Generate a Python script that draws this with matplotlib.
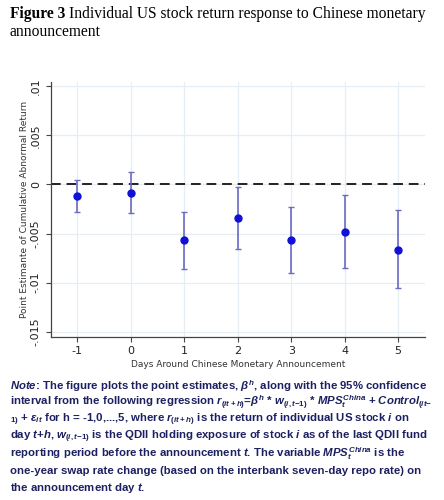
import numpy as np
import matplotlib.pyplot as plt

# point estimates and 95% CI
days = [-1, 0, 1, 2, 3, 4, 5]
beta = [-0.00122, -0.00085, -0.00568, -0.00343, -0.00564, -0.0048, -0.00663]
ci_hi = [0.00045, 0.00123, -0.00279, -0.00027, -0.00228, -0.00108, -0.00265]
ci_lo = [-0.00282, -0.00292, -0.00857, -0.00656, -0.00898, -0.0085, -0.01054]
yticks = [0.01, 0.005, 0, -0.005, -0.01, -0.015]
ytick_labels = ['.01', '.005', '0', '-.005', '-.01', '-.015']

plt.rcParams['axes.unicode_minus'] = False
plt.rcParams['mathtext.fontset'] = 'custom'
plt.rcParams['mathtext.rm'] = 'Liberation Sans:bold'
plt.rcParams['mathtext.it'] = 'Liberation Sans:italic:bold'
plt.rcParams['mathtext.bf'] = 'Liberation Sans:bold'

fig = plt.figure(figsize=(4.44, 5), dpi=100)

title1 = fig.text(0.022, 0.972, 'Figure 3', fontsize=11.2, family='Liberation Serif',
                  weight='bold', va='center')
fig.canvas.draw()
bb = title1.get_window_extent()
fig.text((bb.x1 + 4) / 444, 0.972,
         'Individual US stock return response to Chinese monetary',
         fontsize=11.2, family='Liberation Serif', va='center')
fig.text(0.022, 0.937, 'announcement', fontsize=11.2, family='Liberation Serif', va='center')

ax = fig.add_axes([0.114, 0.327, 0.843, 0.51])
yerr = [np.array(beta) - np.array(ci_lo), np.array(ci_hi) - np.array(beta)]
ax.errorbar(days, beta, yerr=yerr, fmt='none', ecolor='#6b6bc4', elinewidth=1.2,
            capsize=2.5, capthick=1.0, zorder=3)
ax.plot(days, beta, 'o', color='#1010d8', markersize=5, zorder=4)
ax.axhline(0, color='#222222', linestyle=(0, (5, 3)), linewidth=1.4, zorder=2)

ax.set_xlim(-1.5, 5.5)
ax.set_ylim(-0.0155, 0.0105)
ax.set_xticks(days)
ax.set_yticks(yticks)
ax.set_yticklabels(ytick_labels, rotation=90, va='center')
ax.grid(True, color='#e6edf3', linewidth=0.9)
ax.set_axisbelow(True)
for s in ['top', 'right']:
    ax.spines[s].set_visible(False)
for s in ['left', 'bottom']:
    ax.spines[s].set_color('#444444')
    ax.spines[s].set_linewidth(0.9)
ax.tick_params(labelsize=8, length=3.5, color='#444444', labelcolor='#222222')
ax.set_xlabel('Days Around Chinese Monetary Announcement', fontsize=6.5, color='#333333',
              labelpad=3)
ax.set_ylabel('Point Estimante of Cumulative Abnormal Return', fontsize=6.5, color='#333333',
              labelpad=1.5)

note_lines = [
    r'$\it{Note}$: The figure plots the point estimates, $\beta^h$, along with the 95% confidence',
    r'interval from the following regression $r_{(it+h)}$=$\beta^h$ * $w_{(i,t\mathrm{-}1)}$ * $MPS_t^{China}$ + $Control_{(it\mathrm{-}}$',
    r'$_{1)}$ + $\varepsilon_{it}$ for h = -1,0,...,5, where $r_{(it+h)}$ is the return of individual US stock $i$ on',
    r'day $t$+$h$, $w_{(i,t\mathrm{-}1)}$ is the QDII holding exposure of stock $i$ as of the last QDII fund',
    r'reporting period before the announcement $t$. The variable $MPS_t^{China}$ is the',
    r'one-year swap rate change (based on the interbank seven-day repo rate) on',
    r'the announcement day $t$.',
]
y0 = 386
for k, line in enumerate(note_lines):
    fig.text(0.022, 1 - (y0 + 17 * k) / 500, line, fontsize=8.2, weight='bold',
             color='#1c2060', va='center', family='Liberation Sans')

fig.savefig('out.png', dpi=100)
